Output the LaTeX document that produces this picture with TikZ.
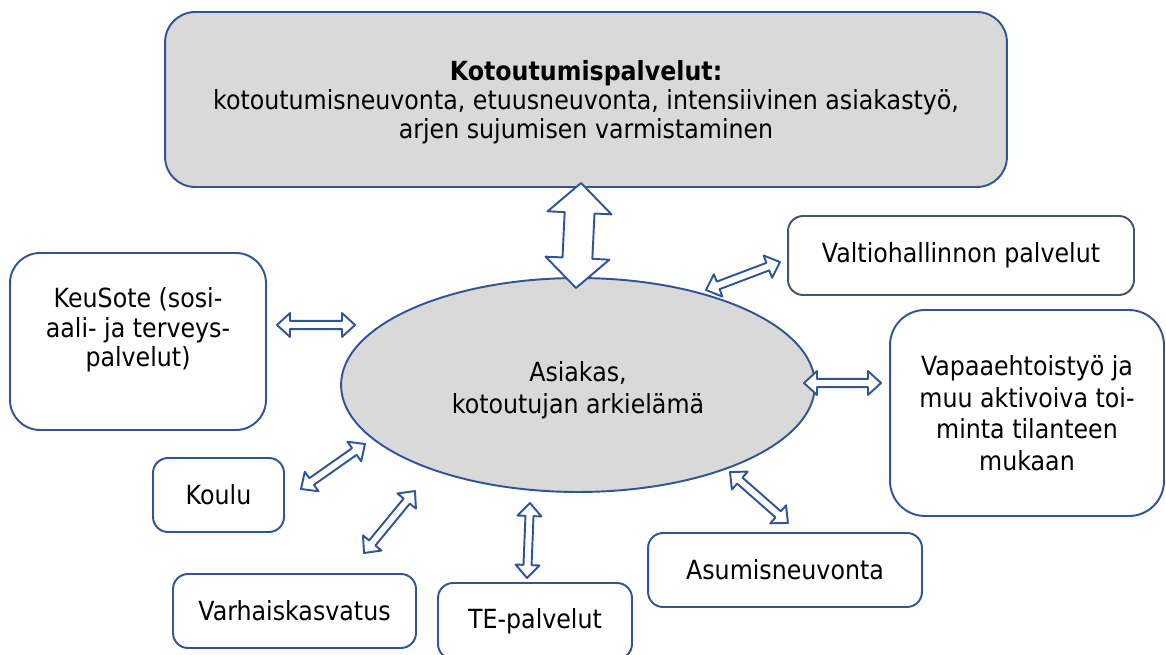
\documentclass[tikz,border=0pt]{standalone}
\usepackage{fontspec}
\setmainfont{DejaVu Sans}[FakeStretch=0.9]
\usetikzlibrary{shapes.geometric, calc}

\definecolor{frameblue}{RGB}{47,85,151}
\definecolor{frameslate}{RGB}{68,84,106}
\definecolor{softgray}{RGB}{217,217,217}

% hollow two-way arrow: ends, body half width, head half width, head length
\newcommand{\twoway}[5]{%
  \draw[arrowline] let \p1=(#1), \p2=(#2),
    \n1={atan2(\y2-\y1,\x2-\x1)}, \n2={veclen(\x2-\x1,\y2-\y1)} in
    [shift={(\p1)}, rotate=\n1]
    (0pt,0pt) -- (#5,#4) -- (#5,#3) -- ({\n2*1pt-#5},#3) -- ({\n2*1pt-#5},#4)
    -- ({\n2*1pt},0pt) -- ({\n2*1pt-#5},-#4) -- ({\n2*1pt-#5},-#3)
    -- (#5,-#3) -- (#5,-#4) -- cycle;}

\begin{document}
\begin{tikzpicture}[x=0.02cm, y=-0.02cm, line join=round,
txt/.style={align=center, font=\fontsize{15}{16.6}\selectfont},
box/.style={txt, rectangle, rounded corners=0.3cm, draw=frameblue, line width=1.1pt, fill=white},
bigbox/.style={box, rounded corners=0.6cm},
topbox/.style={bigbox, fill=softgray},
hub/.style={ellipse, draw=frameblue, line width=1.1pt, fill=softgray},
arrowline/.style={draw=frameblue, line width=1.1pt, fill=white},
]
\clip (0,0) rectangle (1166,655);

%Nodes
\node[topbox, minimum width=16.84cm, minimum height=3.5cm] (palvelut) at (586,99.5) {};
\node[txt] (palvelutText) at (586,102)
  {\textbf{Kotoutumispalvelut:}\\kotoutumisneuvonta, etuusneuvonta, intensiivinen asiakastyö,\\arjen sujumisen varmistaminen};
\node[hub, minimum width=9.48cm, minimum height=4.28cm] (asiakas) at (578,385) {};
\node[txt, font=\fontsize{15}{18.2}\selectfont] (asiakasText) at (578,390) {Asiakas,\\kotoutujan arkielämä};
\node[bigbox, minimum width=5.12cm, minimum height=3.54cm] (keusote) at (138,341.5) {};
\node[txt, font=\fontsize{15}{16.8}\selectfont] (keusoteText) at (138,330) {KeuSote (sosi-\\aali- ja terveys-\\palvelut)};
\node[box, draw=frameslate, minimum width=6.92cm, minimum height=1.58cm] (valtio) at (961,255.5) {Valtiohallinnon palvelut};
\node[bigbox, rounded corners=0.7cm, minimum width=5.48cm, minimum height=4.12cm, font=\fontsize{15}{18}\selectfont] (vapaa) at (1027,413)
  {Vapaaehtoistyö ja\\muu aktivoiva toi-\\minta tilanteen\\mukaan};
\node[box, minimum width=2.62cm, minimum height=1.48cm] (koulu) at (218.5,495) {Koulu};
\node[box, minimum width=4.86cm, minimum height=1.48cm] (varhais) at (294.5,611) {Varhaiskasvatus};
\node[box, minimum width=3.88cm, minimum height=1.52cm] (te) at (535,621) {TE-palvelut};
\node[box, minimum width=5.48cm, minimum height=1.48cm] (asumis) at (785,570) {Asumisneuvonta};

%Arrow ends
\coordinate (palvelutEnd) at (581,183);
\coordinate (asiakasTop) at (576,288);
\coordinate (keusoteEnd) at (277,325);
\coordinate (asiakasW) at (355,325);
\coordinate (asiakasNE) at (706,290);
\coordinate (valtioEnd) at (780,262);
\coordinate (asiakasE) at (804,383);
\coordinate (vapaaEnd) at (881,383);
\coordinate (kouluEnd) at (301,489);
\coordinate (asiakasSW) at (365,444);
\coordinate (varhaisEnd) at (364,553);
\coordinate (asiakasSSW) at (415,491);
\coordinate (asiakasS) at (530,503);
\coordinate (teEnd) at (527,578);
\coordinate (asiakasSE) at (730,472);
\coordinate (asumisEnd) at (788,523);

%Lines
\twoway{palvelutEnd}{asiakasTop}{8.5pt}{18.2pt}{17pt}
\twoway{keusoteEnd}{asiakasW}{2.3pt}{6.8pt}{7.4pt}
\twoway{asiakasNE}{valtioEnd}{2.3pt}{6.8pt}{7.4pt}
\twoway{asiakasE}{vapaaEnd}{2.3pt}{6.8pt}{7.4pt}
\twoway{kouluEnd}{asiakasSW}{2.3pt}{6.8pt}{7.4pt}
\twoway{varhaisEnd}{asiakasSSW}{2.3pt}{6.8pt}{7.4pt}
\twoway{asiakasS}{teEnd}{2.3pt}{6.8pt}{7.4pt}
\twoway{asiakasSE}{asumisEnd}{2.3pt}{6.8pt}{7.4pt}

\end{tikzpicture}
\end{document}
